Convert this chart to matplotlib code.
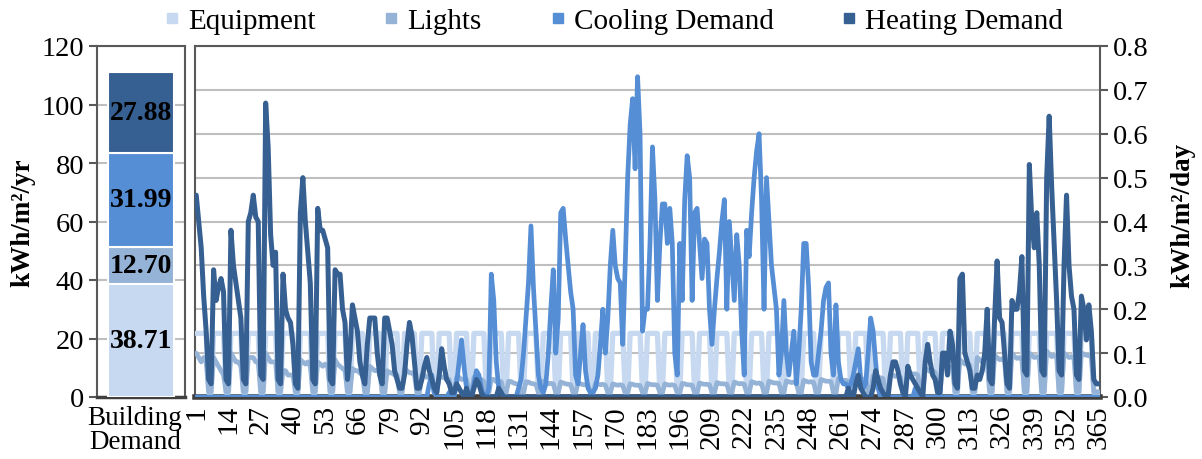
import matplotlib
matplotlib.use("Agg")
import matplotlib.pyplot as plt
import matplotlib.transforms as mtransforms
from matplotlib.lines import Line2D

plt.rcParams['font.family'] = ['Liberation Serif', 'DejaVu Serif']

# ---- data ----
series_names = ["Equipment", "Lights", "Cooling Demand", "Heating Demand"]
colors = ["#C6D9F1", "#95B3D7", "#558ED5", "#376092"]

# annual totals, kWh/m2/yr (stacked bar)
annual = [38.71, 12.70, 31.99, 27.88]
bar_label = "Building\nDemand"

# daily values, kWh/m2/day, one row per week (Mon..Sun), day 1..365
equipment = [
    0.145, 0.145, 0.145, 0.145, 0.145, 0.01, 0.01,
    0.145, 0.145, 0.145, 0.145, 0.145, 0.01, 0.01,
    0.145, 0.145, 0.145, 0.145, 0.145, 0.01, 0.01,
    0.145, 0.145, 0.145, 0.145, 0.145, 0.01, 0.01,
    0.145, 0.145, 0.145, 0.145, 0.145, 0.01, 0.01,
    0.145, 0.145, 0.145, 0.145, 0.145, 0.01, 0.01,
    0.145, 0.145, 0.145, 0.145, 0.145, 0.01, 0.01,
    0.145, 0.145, 0.145, 0.145, 0.145, 0.01, 0.01,
    0.145, 0.145, 0.145, 0.145, 0.145, 0.01, 0.01,
    0.145, 0.145, 0.145, 0.145, 0.145, 0.01, 0.01,
    0.145, 0.145, 0.145, 0.145, 0.145, 0.01, 0.01,
    0.145, 0.145, 0.145, 0.145, 0.145, 0.01, 0.01,
    0.145, 0.145, 0.145, 0.145, 0.145, 0.01, 0.01,
    0.145, 0.145, 0.145, 0.145, 0.145, 0.01, 0.01,
    0.145, 0.145, 0.145, 0.145, 0.145, 0.01, 0.01,
    0.145, 0.145, 0.145, 0.145, 0.145, 0.01, 0.01,
    0.145, 0.145, 0.145, 0.145, 0.145, 0.01, 0.01,
    0.145, 0.145, 0.145, 0.145, 0.145, 0.01, 0.01,
    0.145, 0.145, 0.145, 0.145, 0.145, 0.01, 0.01,
    0.145, 0.145, 0.145, 0.145, 0.145, 0.01, 0.01,
    0.145, 0.145, 0.145, 0.145, 0.145, 0.01, 0.01,
    0.145, 0.145, 0.145, 0.145, 0.145, 0.01, 0.01,
    0.145, 0.145, 0.145, 0.145, 0.145, 0.01, 0.01,
    0.145, 0.145, 0.145, 0.145, 0.145, 0.01, 0.01,
    0.145, 0.145, 0.145, 0.145, 0.145, 0.01, 0.01,
    0.145, 0.145, 0.145, 0.145, 0.145, 0.01, 0.01,
    0.145, 0.145, 0.145, 0.145, 0.145, 0.01, 0.01,
    0.145, 0.145, 0.145, 0.145, 0.145, 0.01, 0.01,
    0.145, 0.145, 0.145, 0.145, 0.145, 0.01, 0.01,
    0.145, 0.145, 0.145, 0.145, 0.145, 0.01, 0.01,
    0.145, 0.145, 0.145, 0.145, 0.145, 0.01, 0.01,
    0.145, 0.145, 0.145, 0.145, 0.145, 0.01, 0.01,
    0.145, 0.145, 0.145, 0.145, 0.145, 0.01, 0.01,
    0.145, 0.145, 0.145, 0.145, 0.145, 0.01, 0.01,
    0.145, 0.145, 0.145, 0.145, 0.145, 0.01, 0.01,
    0.145, 0.145, 0.145, 0.145, 0.145, 0.01, 0.01,
    0.145, 0.145, 0.145, 0.145, 0.145, 0.01, 0.01,
    0.145, 0.145, 0.145, 0.145, 0.145, 0.01, 0.01,
    0.145, 0.145, 0.145, 0.145, 0.145, 0.01, 0.01,
    0.145, 0.145, 0.145, 0.145, 0.145, 0.01, 0.01,
    0.145, 0.145, 0.145, 0.145, 0.145, 0.01, 0.01,
    0.145, 0.145, 0.145, 0.145, 0.145, 0.01, 0.01,
    0.145, 0.145, 0.145, 0.145, 0.145, 0.01, 0.01,
    0.145, 0.145, 0.145, 0.145, 0.145, 0.01, 0.01,
    0.145, 0.145, 0.145, 0.145, 0.145, 0.01, 0.01,
    0.145, 0.145, 0.145, 0.145, 0.145, 0.01, 0.01,
    0.145, 0.145, 0.145, 0.145, 0.145, 0.01, 0.01,
    0.145, 0.145, 0.145, 0.145, 0.145, 0.01, 0.01,
    0.145, 0.145, 0.145, 0.145, 0.145, 0.01, 0.01,
    0.145, 0.145, 0.145, 0.145, 0.145, 0.01, 0.01,
    0.145, 0.145, 0.145, 0.145, 0.145, 0.01, 0.01,
    0.145, 0.145, 0.145, 0.145, 0.145, 0.01, 0.01,
    0.01,
]

lights = [
    0.100, 0.090, 0.080, 0.090, 0.080, 0.012, 0.012,
    0.090, 0.080, 0.070, 0.060, 0.050, 0.012, 0.012,
    0.100, 0.090, 0.080, 0.080, 0.070, 0.012, 0.012,
    0.090, 0.090, 0.090, 0.080, 0.080, 0.012, 0.012,
    0.100, 0.090, 0.080, 0.080, 0.080, 0.012, 0.012,
    0.060, 0.060, 0.050, 0.050, 0.050, 0.012, 0.012,
    0.085, 0.080, 0.075, 0.080, 0.070, 0.012, 0.012,
    0.080, 0.075, 0.070, 0.075, 0.070, 0.012, 0.012,
    0.085, 0.075, 0.070, 0.065, 0.060, 0.012, 0.012,
    0.065, 0.060, 0.060, 0.055, 0.050, 0.011, 0.011,
    0.070, 0.065, 0.060, 0.060, 0.055, 0.011, 0.011,
    0.060, 0.055, 0.055, 0.050, 0.050, 0.011, 0.011,
    0.065, 0.060, 0.055, 0.055, 0.050, 0.011, 0.011,
    0.050, 0.050, 0.045, 0.045, 0.040, 0.011, 0.011,
    0.050, 0.045, 0.045, 0.040, 0.040, 0.011, 0.011,
    0.045, 0.045, 0.040, 0.040, 0.040, 0.011, 0.011,
    0.045, 0.040, 0.040, 0.040, 0.035, 0.011, 0.011,
    0.040, 0.040, 0.035, 0.035, 0.035, 0.010, 0.010,
    0.036, 0.035, 0.032, 0.030, 0.030, 0.010, 0.010,
    0.035, 0.034, 0.031, 0.030, 0.029, 0.010, 0.010,
    0.036, 0.034, 0.030, 0.031, 0.030, 0.010, 0.010,
    0.034, 0.032, 0.030, 0.029, 0.028, 0.010, 0.010,
    0.032, 0.030, 0.028, 0.028, 0.027, 0.010, 0.010,
    0.031, 0.029, 0.028, 0.029, 0.027, 0.010, 0.010,
    0.030, 0.028, 0.027, 0.028, 0.026, 0.010, 0.010,
    0.030, 0.029, 0.027, 0.027, 0.026, 0.010, 0.010,
    0.031, 0.029, 0.028, 0.028, 0.027, 0.010, 0.010,
    0.030, 0.028, 0.027, 0.028, 0.026, 0.010, 0.010,
    0.031, 0.030, 0.028, 0.028, 0.027, 0.010, 0.010,
    0.032, 0.030, 0.029, 0.029, 0.028, 0.010, 0.010,
    0.033, 0.031, 0.030, 0.030, 0.029, 0.010, 0.010,
    0.034, 0.032, 0.030, 0.031, 0.029, 0.010, 0.010,
    0.035, 0.033, 0.031, 0.032, 0.030, 0.010, 0.010,
    0.036, 0.034, 0.032, 0.032, 0.031, 0.010, 0.010,
    0.037, 0.035, 0.033, 0.034, 0.032, 0.010, 0.010,
    0.038, 0.036, 0.034, 0.035, 0.033, 0.010, 0.010,
    0.040, 0.038, 0.036, 0.036, 0.035, 0.010, 0.010,
    0.042, 0.040, 0.038, 0.038, 0.036, 0.011, 0.011,
    0.045, 0.043, 0.040, 0.041, 0.039, 0.011, 0.011,
    0.048, 0.046, 0.043, 0.044, 0.042, 0.011, 0.011,
    0.052, 0.050, 0.047, 0.048, 0.045, 0.011, 0.011,
    0.058, 0.055, 0.052, 0.053, 0.050, 0.011, 0.011,
    0.065, 0.062, 0.058, 0.060, 0.056, 0.012, 0.012,
    0.075, 0.070, 0.066, 0.068, 0.064, 0.012, 0.012,
    0.085, 0.080, 0.075, 0.078, 0.072, 0.012, 0.012,
    0.090, 0.085, 0.080, 0.082, 0.078, 0.012, 0.012,
    0.095, 0.090, 0.085, 0.087, 0.082, 0.012, 0.012,
    0.100, 0.092, 0.088, 0.090, 0.085, 0.012, 0.012,
    0.100, 0.095, 0.090, 0.092, 0.088, 0.012, 0.012,
    0.105, 0.098, 0.092, 0.095, 0.090, 0.012, 0.012,
    0.100, 0.095, 0.090, 0.092, 0.088, 0.012, 0.012,
    0.100, 0.098, 0.095, 0.095, 0.090, 0.012, 0.012,
    0.012,
]

cooling = [
    0.0, 0.0, 0.0, 0.0, 0.0, 0.0, 0.0,
    0.0, 0.0, 0.0, 0.0, 0.0, 0.0, 0.0,
    0.0, 0.0, 0.0, 0.0, 0.0, 0.0, 0.0,
    0.0, 0.0, 0.0, 0.0, 0.0, 0.0, 0.0,
    0.0, 0.0, 0.0, 0.0, 0.0, 0.0, 0.0,
    0.0, 0.0, 0.0, 0.0, 0.0, 0.0, 0.0,
    0.0, 0.0, 0.0, 0.0, 0.0, 0.0, 0.0,
    0.0, 0.0, 0.0, 0.0, 0.0, 0.0, 0.0,
    0.0, 0.0, 0.0, 0.0, 0.0, 0.0, 0.0,
    0.0, 0.0, 0.0, 0.0, 0.0, 0.0, 0.0,
    0.0, 0.0, 0.0, 0.0, 0.0, 0.0, 0.0,
    0.0, 0.0, 0.0, 0.0, 0.0, 0.0, 0.0,
    0.0, 0.0, 0.0, 0.0, 0.0, 0.0, 0.0,
    0.0, 0.0, 0.0, 0.03, 0.05, 0.01, 0.0,
    0.0, 0.0, 0.0, 0.0, 0.01, 0.0, 0.0,
    0.03, 0.08, 0.13, 0.07, 0.02, 0.0, 0.0,
    0.03, 0.06, 0.05, 0.02, 0.0, 0.0, 0.02,
    0.28, 0.22, 0.08, 0.02, 0.01, 0.0, 0.0,
    0.0, 0.0, 0.0, 0.0, 0.02, 0.04, 0.10,
    0.18, 0.26, 0.39, 0.25, 0.15, 0.05, 0.02,
    0.01, 0.03, 0.10, 0.20, 0.29, 0.10, 0.18,
    0.42, 0.43, 0.36, 0.30, 0.24, 0.20, 0.05,
    0.03, 0.10, 0.165, 0.06, 0.02, 0.01, 0.01,
    0.02, 0.05, 0.12, 0.20, 0.10, 0.18, 0.30,
    0.38, 0.30, 0.27, 0.26, 0.12, 0.30, 0.50,
    0.62, 0.68, 0.52, 0.73, 0.60, 0.15, 0.20,
    0.20, 0.35, 0.57, 0.45, 0.22, 0.35, 0.44,
    0.44, 0.35, 0.43, 0.35, 0.10, 0.05, 0.35,
    0.22, 0.45, 0.55, 0.50, 0.22, 0.42, 0.43,
    0.35, 0.27, 0.36, 0.35, 0.20, 0.12, 0.20,
    0.27, 0.33, 0.40, 0.45, 0.20, 0.40, 0.31,
    0.22, 0.37, 0.30, 0.15, 0.05, 0.38, 0.32,
    0.42, 0.50, 0.56, 0.60, 0.45, 0.20, 0.50,
    0.40, 0.30, 0.25, 0.20, 0.05, 0.10, 0.22,
    0.10, 0.05, 0.10, 0.15, 0.03, 0.10, 0.20,
    0.35, 0.35, 0.25, 0.08, 0.05, 0.05, 0.10,
    0.15, 0.22, 0.25, 0.26, 0.10, 0.05, 0.21,
    0.08, 0.04, 0.03, 0.03, 0.02, 0.03, 0.05,
    0.08, 0.11, 0.04, 0.02, 0.03, 0.10, 0.18,
    0.15, 0.08, 0.02, 0.0, 0.0, 0.0, 0.0,
    0.0, 0.0, 0.0, 0.0, 0.0, 0.0, 0.0,
    0.0, 0.0, 0.0, 0.02, 0.0, 0.0, 0.0,
    0.0, 0.0, 0.0, 0.0, 0.0, 0.0, 0.0,
    0.0, 0.0, 0.0, 0.0, 0.0, 0.0, 0.0,
    0.0, 0.0, 0.0, 0.0, 0.0, 0.0, 0.0,
    0.0, 0.0, 0.0, 0.0, 0.0, 0.0, 0.0,
    0.0, 0.0, 0.0, 0.0, 0.0, 0.0, 0.0,
    0.0, 0.0, 0.0, 0.0, 0.0, 0.0, 0.0,
    0.0, 0.0, 0.0, 0.0, 0.0, 0.0, 0.0,
    0.0, 0.0, 0.0, 0.0, 0.0, 0.0, 0.0,
    0.0, 0.0, 0.0, 0.0, 0.0, 0.0, 0.0,
    0.0, 0.0, 0.0, 0.0, 0.0, 0.0, 0.0,
    0.0,
]

heating = [
    0.46, 0.40, 0.34, 0.23, 0.15, 0.04, 0.03,
    0.29, 0.22, 0.25, 0.27, 0.24, 0.04, 0.03,
    0.38, 0.30, 0.26, 0.22, 0.18, 0.04, 0.03,
    0.40, 0.42, 0.46, 0.41, 0.40, 0.05, 0.04,
    0.67, 0.57, 0.37, 0.30, 0.33, 0.04, 0.03,
    0.28, 0.20, 0.18, 0.17, 0.12, 0.03, 0.02,
    0.42, 0.50, 0.40, 0.33, 0.26, 0.04, 0.03,
    0.43, 0.38, 0.38, 0.36, 0.34, 0.04, 0.03,
    0.29, 0.28, 0.28, 0.20, 0.17, 0.04, 0.10,
    0.21, 0.18, 0.15, 0.08, 0.05, 0.03, 0.12,
    0.18, 0.18, 0.18, 0.10, 0.05, 0.03, 0.18,
    0.18, 0.15, 0.12, 0.06, 0.04, 0.02, 0.02,
    0.05, 0.12, 0.17, 0.14, 0.08, 0.02, 0.02,
    0.04, 0.07, 0.09, 0.06, 0.04, 0.02, 0.01,
    0.05, 0.11, 0.07, 0.04, 0.03, 0.01, 0.01,
    0.03, 0.02, 0.01, 0.0, 0.02, 0.0, 0.0,
    0.02, 0.04, 0.03, 0.01, 0.0, 0.0, 0.0,
    0.0, 0.0, 0.0, 0.02, 0.01, 0.0, 0.0,
    0.0, 0.0, 0.0, 0.0, 0.0, 0.0, 0.0,
    0.0, 0.0, 0.0, 0.0, 0.0, 0.0, 0.0,
    0.0, 0.0, 0.0, 0.0, 0.0, 0.0, 0.0,
    0.0, 0.0, 0.0, 0.0, 0.0, 0.0, 0.0,
    0.0, 0.0, 0.0, 0.0, 0.0, 0.0, 0.0,
    0.0, 0.0, 0.0, 0.0, 0.0, 0.0, 0.0,
    0.0, 0.0, 0.0, 0.0, 0.0, 0.0, 0.0,
    0.0, 0.0, 0.0, 0.0, 0.0, 0.0, 0.0,
    0.0, 0.0, 0.0, 0.0, 0.0, 0.0, 0.0,
    0.0, 0.0, 0.0, 0.0, 0.0, 0.0, 0.0,
    0.0, 0.0, 0.0, 0.0, 0.0, 0.0, 0.0,
    0.0, 0.0, 0.0, 0.0, 0.0, 0.0, 0.0,
    0.0, 0.0, 0.0, 0.0, 0.0, 0.0, 0.0,
    0.0, 0.0, 0.0, 0.0, 0.0, 0.0, 0.0,
    0.0, 0.0, 0.0, 0.0, 0.0, 0.0, 0.0,
    0.0, 0.0, 0.0, 0.0, 0.0, 0.0, 0.0,
    0.0, 0.0, 0.0, 0.0, 0.0, 0.0, 0.0,
    0.0, 0.0, 0.0, 0.0, 0.0, 0.0, 0.0,
    0.0, 0.0, 0.0, 0.0, 0.0, 0.0, 0.0,
    0.0, 0.0, 0.0, 0.0, 0.02, 0.0, 0.0,
    0.03, 0.05, 0.02, 0.01, 0.0, 0.0, 0.0,
    0.02, 0.06, 0.04, 0.02, 0.01, 0.0, 0.0,
    0.05, 0.08, 0.08, 0.06, 0.03, 0.01, 0.0,
    0.07, 0.05, 0.04, 0.03, 0.02, 0.01, 0.0,
    0.08, 0.12, 0.08, 0.05, 0.04, 0.01, 0.01,
    0.10, 0.10, 0.05, 0.15, 0.12, 0.03, 0.02,
    0.27, 0.28, 0.10, 0.08, 0.06, 0.02, 0.02,
    0.05, 0.04, 0.06, 0.10, 0.20, 0.04, 0.03,
    0.18, 0.31, 0.18, 0.17, 0.10, 0.03, 0.02,
    0.22, 0.20, 0.20, 0.24, 0.32, 0.06, 0.05,
    0.53, 0.40, 0.34, 0.42, 0.30, 0.06, 0.05,
    0.50, 0.64, 0.48, 0.35, 0.22, 0.06, 0.05,
    0.30, 0.46, 0.30, 0.23, 0.20, 0.05, 0.04,
    0.23, 0.20, 0.13, 0.21, 0.15, 0.04, 0.03,
    0.03,
]

days = list(range(1, 366))
daily = [equipment, lights, cooling, heating]

# ---- figure ----
W, H = 1202, 460
fig = plt.figure(figsize=(W / 100, H / 100), dpi=100)

fs_tick = 20.5
fs_leg = 21
spine_col = "#595959"
grid_col = "#BFBFBF"

def frac(x0, y0, x1, y1):
    return [x0 / W, 1 - y1 / H, (x1 - x0) / W, (y1 - y0) / H]

# stacked bar panel
ax1 = fig.add_axes(frac(97, 47, 185, 398))
bottom = 0
for val, c in zip(annual, colors):
    ax1.bar(0, val, bottom=bottom, width=0.76, color=c, edgecolor="white",
            linewidth=1.5, zorder=3)
    ax1.text(0, bottom + val / 2, "%.2f" % val, ha="center", va="center",
             fontsize=20, fontweight="bold", color="black", zorder=4)
    bottom += val
ax1.set_xlim(-0.5, 0.5)
ax1.set_ylim(0, 120)
ax1.set_yticks(range(0, 121, 20))
ax1.set_xticks([0])
ax1.set_xticklabels([bar_label], fontsize=19.5, linespacing=0.95)
ax1.tick_params(axis="x", length=0, pad=6)
# nudge the category label a little to the left so it clears the "1" label
shift = mtransforms.ScaledTranslation(-6 / 100, 0, fig.dpi_scale_trans)
for lab in ax1.get_xticklabels():
    lab.set_transform(lab.get_transform() + shift)
ax1.tick_params(axis="y", labelsize=fs_tick, length=6, width=1.5, color=spine_col, pad=3)
ax1.yaxis.grid(True, color=grid_col, linewidth=1.5, zorder=0)
ax1.set_axisbelow(True)
for s in ax1.spines.values():
    s.set_color(spine_col)
    s.set_linewidth(1.5)
ax1.spines["bottom"].set_color("#404040")
ax1.spines["bottom"].set_linewidth(2.5)

# daily line panel
ax2 = fig.add_axes(frac(195, 47, 1100, 398))
widths = [3.8, 3.4, 3.4, 3.6]
for i, (vals, c, lw) in enumerate(zip(daily, colors, widths)):
    ax2.plot(days, vals, color=c, linewidth=lw, solid_joinstyle="round",
             solid_capstyle="round", zorder=3 + i)
ax2.set_xlim(0.5, 365.5)
ax2.set_ylim(0, 0.8)
ax2.set_yticks([i / 10 for i in range(9)])
ax2.set_yticklabels(["%.1f" % (i / 10) for i in range(9)])
ax2.yaxis.tick_right()
ax2.tick_params(axis="y", labelsize=fs_tick, length=6, width=1.5, color=spine_col, pad=3)
ax2.set_xticks(days[::13])
ax2.set_xticklabels([str(d) for d in days[::13]], rotation=90, fontsize=21)
ax2.tick_params(axis="x", length=0, pad=5)
ax2.yaxis.grid(True, color=grid_col, linewidth=1.5, zorder=0)
ax2.set_axisbelow(True)
for s in ax2.spines.values():
    s.set_color(spine_col)
    s.set_linewidth(1.5)
ax2.spines["bottom"].set_color("#404040")
ax2.spines["bottom"].set_linewidth(4)

# axis titles
fig.text(23 / W, 1 - 223 / H, "kWh/m²/yr", rotation=90, ha="center", va="center",
         fontsize=19.5, fontweight="bold")
fig.text(1183 / W, 1 - 215 / H, "kWh/m²/day", rotation=90, ha="center", va="center",
         fontsize=19.5, fontweight="bold")

# legend
handles = [Line2D([], [], marker="s", linestyle="none", markersize=7.5,
                  markerfacecolor=c, markeredgecolor=c) for c in colors]
fig.legend(handles, series_names, loc="center", bbox_to_anchor=(614 / W, 1 - 22 / H),
           ncol=4, frameon=False, fontsize=fs_leg, handlelength=0.5,
           handletextpad=0.3, columnspacing=2.35, borderaxespad=0)

fig.savefig("out.png", dpi=100)
